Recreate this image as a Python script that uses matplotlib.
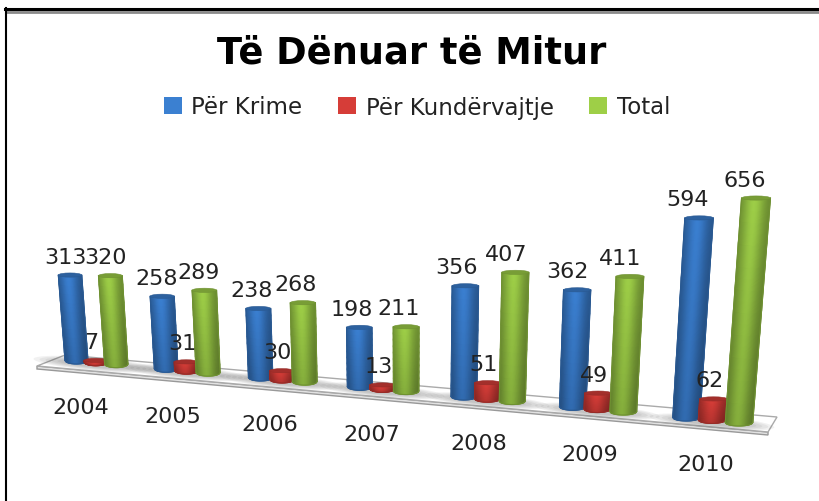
import matplotlib
matplotlib.use('Agg')
import matplotlib.pyplot as plt
from matplotlib.patches import Ellipse, Patch, Polygon
import numpy as np

titulli = 'Të Dënuar të Mitur'
vitet = ['2004', '2005', '2006', '2007', '2008', '2009', '2010']
krime = [313, 258, 238, 198, 356, 362, 594]
kundervajtje = [7, 31, 30, 13, 51, 49, 62]
total = [320, 289, 268, 211, 407, 411, 656]

seri = [('Për Krime', krime, 0.0, (0.23, 0.50, 0.82)),
        ('Për Kundërvajtje', kundervajtje, 0.22, (0.84, 0.24, 0.22)),
        ('Total', total, 0.45, (0.62, 0.81, 0.28))]


# the 3d floor seen in perspective, in picture pixels
def baza_x(t):
    return 76.5 + 87.3 * t + 2.39 * t ** 2


def baza_y(t):
    return 361.5 + 8.0 * t + 0.25 * t ** 2


def shkalla(t):
    return 0.273 + 0.0075 * t + 0.0005 * t ** 2


def rrezja(t):
    return 11.5 + 0.35 * t


def cilindri(ax, t, vlera, ngjyra, z):
    x0, y0, r = baza_x(t), baza_y(t), rrezja(t)
    h = vlera * shkalla(t)
    anim = (x0 - 408) / 4370
    u = np.linspace(-1, 1, 31)
    v = np.linspace(0, 1, 11)
    U, V = np.meshgrid(u, v)
    R = r * (1 + h * V / 4370)
    ry = 3.5 - 1.5 * V
    X = x0 + anim * h * V + R * U
    Y = y0 - h * V + ry * np.sqrt(1 - U ** 2)

    drita = 0.66 + 0.34 * np.exp(-((U + 0.1) / 0.72) ** 2)
    drita = drita * (0.84 + 0.16 * V)
    C = np.clip(drita[..., None] * np.array(ngjyra), 0, 1)
    ax.pcolormesh(X, Y, C, shading='gouraud', zorder=z)

    errt = tuple(c * 0.7 for c in ngjyra)
    ax.plot(X[:, 0], Y[:, 0], color=errt, lw=0.8, zorder=z)
    ax.plot(X[:, -1], Y[:, -1], color=errt, lw=0.8, zorder=z)
    ax.plot(X[0], Y[0], color=errt, lw=0.8, zorder=z)
    xt, yt, wt = x0 + anim * h, y0 - h, 2 * r * (1 + h / 4370)
    ax.add_patch(Ellipse((xt, yt), wt, 4.2, fc=tuple(c * 0.76 for c in ngjyra),
                         ec=errt, lw=0.4, zorder=z + 0.1))
    return xt, yt


fig = plt.figure(figsize=(8.19, 5.02), dpi=100)
ax = fig.add_axes([0, 0, 1, 1])
ax.set_xlim(0, 819)
ax.set_ylim(502, 0)
ax.axis('off')

# frame
ax.plot([6, 819], [12.5, 12.5], color='#8a8a8a', lw=2, zorder=1)
ax.plot([5, 819], [10, 10], color='black', lw=2.2, zorder=1.1)
ax.plot([5.5, 5.5], [9, 502], color='black', lw=1.5, zorder=1.1)

# floor
ax.add_patch(Polygon([(37, 367), (768, 433), (768, 436), (37, 370)], fc='#e2e2e2', ec='#999999', lw=1, zorder=2))
ax.add_patch(Polygon([(37, 367), (65, 356), (777, 418), (768, 433)], fc='white', ec='#aaaaaa', lw=1, zorder=2.1))

for i in range(len(vitet)):
    xc, yc = baza_x(i + 0.22), baza_y(i + 0.22) + 2
    for k in range(5):
        ax.add_patch(Ellipse((xc, yc), 125 - 12 * k, 13 - 1.6 * k, angle=5, fc='#444444', alpha=0.07,
                             ec='none', zorder=2.2))

for i in range(len(vitet)):
    for j, (emri, vlerat, zhvendosje, ngjyra) in enumerate(seri):
        t = i + zhvendosje
        xt, yt = cilindri(ax, t, vlerat[i], ngjyra, 3 + i + j * 0.2)
        dx = -4 if j == 1 else -5 - i
        ax.annotate(str(vlerat[i]), (xt, yt), xytext=(dx * 0.72, 18.5 * 0.72),
                    textcoords='offset points', ha='center', va='center',
                    fontsize=16, color='#222222', zorder=20, annotation_clip=False)
    ax.text(baza_x(i) + 4.5 + 2.5 * i, baza_y(i) + 47, vitet[i], ha='center', va='center',
            fontsize=16, color='#222222', zorder=20)

ax.text(412, 53, titulli, ha='center', va='center', fontsize=26.5, fontweight='bold',
        color='black', zorder=20)

dorezat = [Patch(fc=s[3], ec='none', label=s[0]) for s in seri]
leg = ax.legend(handles=dorezat, loc='center', bbox_to_anchor=(417 / 819, 1 - 108 / 502), ncols=3,
                frameon=False, fontsize=16.5, handlelength=0.8, handleheight=0.8, handletextpad=0.4,
                columnspacing=1.55, labelcolor='#222222', borderpad=0)

fig.savefig('out.png', dpi=100, facecolor='white')
